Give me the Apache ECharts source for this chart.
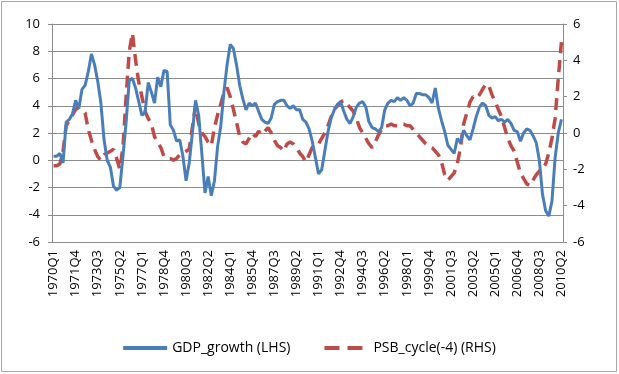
<!DOCTYPE html>
<html>
<head>
<meta charset="utf-8">
<script src="https://cdn.jsdelivr.net/npm/echarts@6/dist/echarts.min.js"></script>
<style>
  html, body { margin: 0; padding: 0; background: #fff; }
  #main { width: 619px; height: 374px; }
</style>
</head>
<body>
<div id="main"></div>
<script>
// quarters 1970Q1 .. 2010Q2
var quarters = [];
for (var y = 1970; y <= 2010; y++) {
  for (var q = 1; q <= 4; q++) {
    if (y === 2010 && q > 2) break;
    quarters.push(y + 'Q' + q);
  }
}

// GDP growth, left axis
var gdpGrowth = [
  0.3, 0.3, 0.5, -0.2, 2.8, 3.0, 3.4, 4.4, 3.8, 5.2,
  5.5, 6.5, 7.8, 7.0, 5.8, 4.2, 1.5, 0.0, -0.5, -1.9,
  -2.2, -2.0, 0.3, 2.8, 5.9, 6.0, 5.3, 4.3, 3.3, 3.5,
  5.7, 5.0, 4.2, 6.1, 5.4, 6.6, 6.5, 2.6, 2.2, 1.4,
  1.5, 0.3, -1.5, -0.2, 2.0, 4.4, 3.3, 0.5, -2.4, -1.2,
  -2.6, -1.5, 1.0, 2.5, 5.0, 7.0, 8.5, 8.2, 7.0, 5.5,
  4.5, 3.7, 4.2, 4.0, 4.2, 3.6, 3.0, 2.8, 2.7, 3.1,
  4.1, 4.3, 4.4, 4.4, 4.0, 3.8, 4.0, 3.7, 3.7, 3.0,
  2.8, 2.3, 1.4, 0.2, -1.0, -0.7, 0.7, 2.1, 3.1, 3.7,
  4.1, 4.3, 3.6, 3.0, 2.7, 3.2, 3.9, 4.2, 4.3, 3.9,
  2.8, 2.4, 2.3, 2.1, 2.4, 3.7, 4.2, 4.4, 4.3, 4.6,
  4.4, 4.6, 4.4, 4.0, 4.2, 4.9, 4.9, 4.8, 4.8, 4.6,
  4.2, 5.3, 3.8, 2.9, 2.1, 1.1, 0.8, 0.5, 1.6, 1.3,
  2.2, 1.8, 1.5, 2.3, 3.2, 3.9, 4.2, 4.0, 3.3, 3.1,
  3.2, 2.9, 3.0, 2.8, 3.0, 2.7, 2.2, 2.1, 1.4, 2.0,
  2.3, 2.2, 1.8, 1.3, 0.0, -2.5, -3.7, -4.1, -3.0, 0.2,
  2.0, 3.0
];

// PSB cycle lagged 4 quarters, right axis
var psbCycle = [
  -1.8, -1.8, -1.7, -1.0, 0.4, 0.7, 1.0, 1.3, 1.4, 1.3,
  1.1, 0.2, -0.4, -0.9, -1.3, -1.5, -1.2, -1.1, -1.0, -0.9,
  -1.4, -2.0, -0.8, 2.0, 4.5, 5.5, 4.0, 2.8, 2.0, 1.2,
  0.8, 0.5, -0.2, -0.5, -0.8, -1.3, -1.4, -1.4, -1.5, -1.4,
  -1.2, -1.1, -1.0, -0.9, 0.3, 1.5, 0.5, 0.0, -0.2, -0.5,
  -0.7, 0.3, 1.0, 1.6, 2.2, 2.5, 2.0, 1.3, 0.6, -0.2,
  -0.5, -0.6, -0.3, 0.0, -0.2, 0.1, -0.1, 0.1, 0.3, 0.0,
  -0.4, -0.7, -0.8, -1.0, -0.6, -0.5, -0.6, -0.8, -1.1, -1.3,
  -1.6, -1.2, -0.8, -0.7, -0.6, -0.3, 0.0, 0.4, 0.9, 1.3,
  1.5, 1.7, 1.8, 1.6, 1.4, 1.2, 0.8, 0.3, 0.0, -0.3,
  -0.6, -0.8, -0.5, -0.1, 0.2, 0.4, 0.4, 0.5, 0.4, 0.4,
  0.5, 0.5, 0.4, 0.4, 0.2, 0.0, -0.2, -0.4, -0.6, -0.7,
  -0.8, -1.0, -1.2, -1.6, -2.3, -2.6, -2.4, -2.2, -1.7, -0.8,
  0.5, 1.1, 1.7, 2.0, 1.9, 2.1, 2.4, 2.7, 2.6, 2.1,
  1.7, 1.3, 0.9, 0.3, -0.3, -0.7, -1.0, -1.6, -2.2, -2.5,
  -2.8, -2.9, -2.6, -2.3, -2.1, -2.0, -1.7, -1.1, -0.3, 0.8,
  3.0, 5.0
];

var leftTicks = { min: -6, max: 10, step: 2 };
var rightTicks = { min: -6, max: 6, step: 2 };

var myChart = echarts.init(document.getElementById('main'));
var fontFam = '"Open Sans", "Liberation Sans", sans-serif';

var option = {
  animation: false,
  backgroundColor: '#fff',
  textStyle: { fontFamily: fontFam },
  graphic: [{
    type: 'rect',
    shape: { x: 1.5, y: 1.5, width: 615, height: 370 },
    style: { fill: 'none', stroke: '#a6a6a6', lineWidth: 1 },
    silent: true
  }],
  grid: { left: 52, right: 56, top: 24, bottom: 132 },
  legend: {
    top: 336,
    left: 'center',
    itemWidth: 44,
    itemHeight: 4,
    itemGap: 34,
    textStyle: { fontSize: 14, color: '#000', fontFamily: fontFam },
    data: [
      { name: 'GDP_growth (LHS)', icon: 'path://M0,0H44V4H0Z' },
      { name: 'PSB_cycle(-4) (RHS)', icon: 'path://M0,0H15V4H0Z M23,0H38V4H23Z M44,0H44V4H44Z' }
    ]
  },
  xAxis: {
    type: 'category',
    data: quarters,
    boundaryGap: true,
    axisLine: { onZero: false, lineStyle: { color: '#8c8c8c', width: 1 } },
    axisTick: { show: false },
    axisLabel: {
      interval: 6,
      rotate: 90,
      margin: 8,
      fontSize: 13,
      color: '#000',
      fontFamily: fontFam
    },
    splitLine: { show: false }
  },
  yAxis: [
    {
      type: 'value',
      min: leftTicks.min,
      max: leftTicks.max,
      interval: leftTicks.step,
      axisLine: { show: true, lineStyle: { color: '#8c8c8c' } },
      axisTick: { show: true, length: 4, lineStyle: { color: '#8c8c8c' } },
      axisLabel: { margin: 12, fontSize: 13, color: '#000', fontFamily: fontFam },
      splitLine: { show: true, lineStyle: { color: '#8c8c8c', width: 1 } }
    },
    {
      type: 'value',
      position: 'right',
      min: rightTicks.min,
      max: rightTicks.max,
      interval: rightTicks.step,
      axisLine: { show: true, lineStyle: { color: '#8c8c8c' } },
      axisTick: { show: true, length: 4, lineStyle: { color: '#8c8c8c' } },
      axisLabel: { margin: 10, fontSize: 13, color: '#000', fontFamily: fontFam },
      splitLine: { show: false }
    }
  ],
  series: [
    {
      name: 'GDP_growth (LHS)',
      type: 'line',
      yAxisIndex: 0,
      data: gdpGrowth,
      symbol: 'none',
      lineStyle: { color: '#4a7ebb', width: 3 },
      itemStyle: { color: '#4a7ebb' },
      z: 3
    },
    {
      name: 'PSB_cycle(-4) (RHS)',
      type: 'line',
      yAxisIndex: 1,
      data: psbCycle,
      symbol: 'none',
      lineStyle: { color: '#be4b48', width: 3.5, type: [12, 7] },
      itemStyle: { color: '#be4b48' },
      z: 2
    }
  ]
};

myChart.setOption(option);
</script>
</body>
</html>
